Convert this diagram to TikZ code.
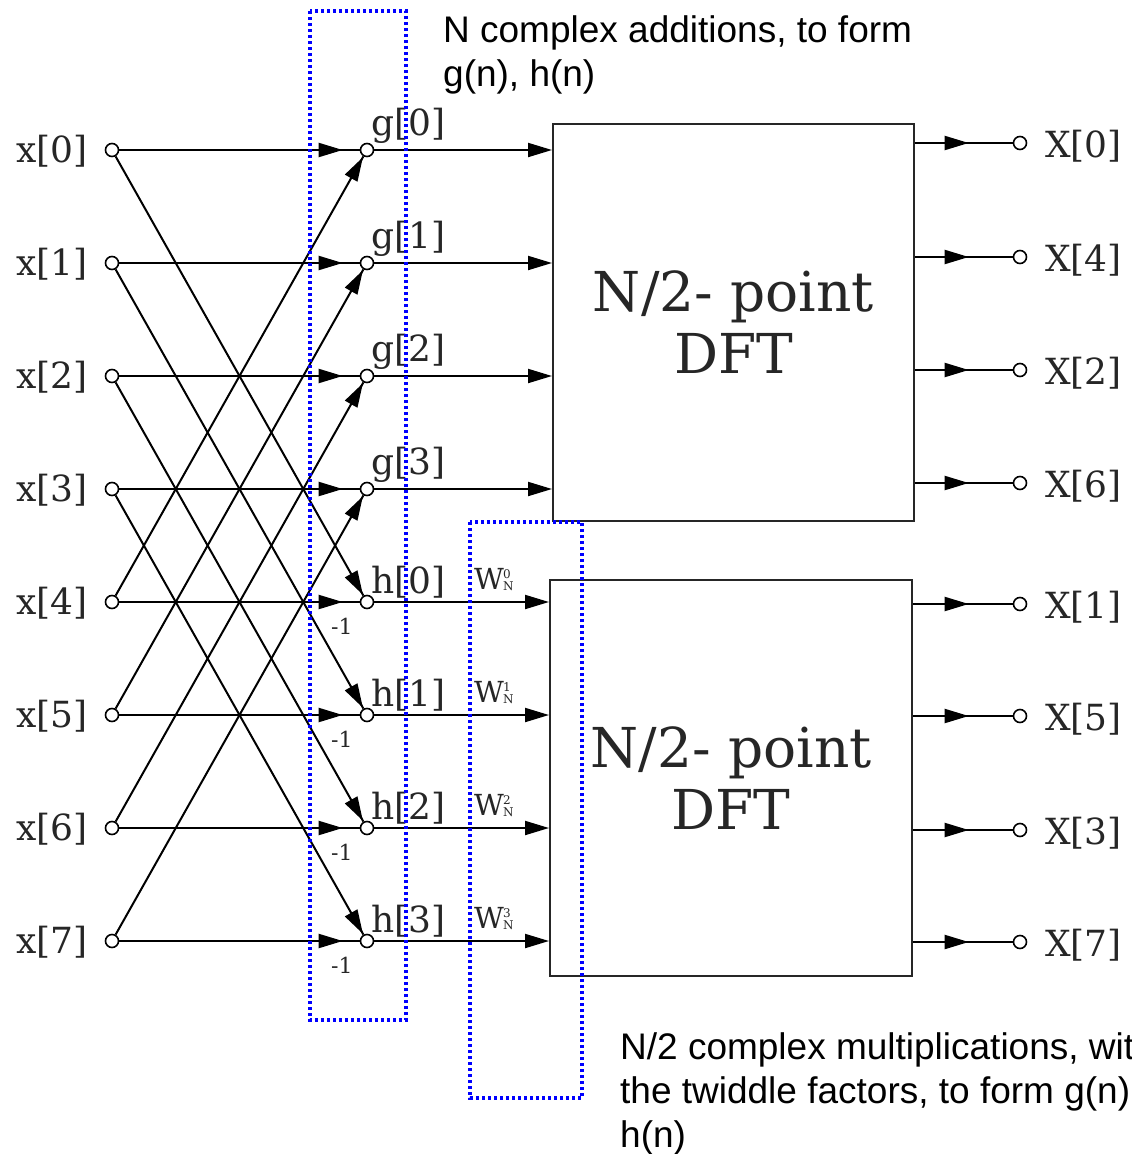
\documentclass[tikz,border=0pt]{standalone}
\usepackage{fontspec}
\setmainfont{DejaVu Serif}
\newfontfamily\sansf{Liberation Sans}
\usetikzlibrary{arrows.meta,decorations.markings,calc}
\newcommand{\twid}[1]{W\kern-1pt\rlap{\raisebox{11pt}{\fontsize{12}{12}\selectfont #1}}\raisebox{-1pt}{\fontsize{12}{12}\selectfont N}}
\begin{document}
\begin{tikzpicture}[x=1pt,y=-1pt,
  pin/.style={circle,draw=black,fill=white,line width=1.6pt,inner sep=0pt,minimum size=13pt},
  wire/.style={line width=2pt,black},
  tipA/.style={-{Triangle[length=24pt,width=14pt]}},
  midarr/.style={decoration={markings,mark=at position #1 with {\arrow{Triangle[length=24pt,width=14pt]}}},postaction={decorate}},
  lbl/.style={font=\fontsize{36}{40}\selectfont,text=black!85,inner sep=0pt},
  wlbl/.style={font=\fontsize{29}{30}\selectfont,text=black!85,inner sep=0pt,anchor=base west},
  minus/.style={font=\fontsize{22}{24}\selectfont,text=black!85,inner sep=0pt,anchor=base west},
  dftbox/.style={draw=black!85,line width=2pt,inner sep=0pt,anchor=north west,align=center,text=black!85,font=\fontsize{55}{62}\selectfont},
  grp/.style={draw=blue,line width=3.5pt,dash pattern=on 3pt off 3pt},
  note/.style={font=\sansf\fontsize{37}{44}\selectfont,inner sep=0pt,anchor=base west}
]
\useasboundingbox (0,0) rectangle (1132,1154);
\fill[white] (0,0) rectangle (1132,1154);
\clip (0,0) rectangle (1132,1154);

% input and middle nodes
\foreach \i/\y in {0/150,1/263,2/376,3/489,4/602,5/715,6/828,7/941} {
  \node[pin] (x\i) at (112,\y) {};
  \node[pin] (m\i) at (367,\y) {};
  \node[lbl,anchor=base east] (xl\i) at (88,\y+12) {x[\i]};
}

% DFT boxes
\node[dftbox,minimum width=361pt,minimum height=397pt] (dft1) at (552,123) {N/2- point\\DFT};
\node[dftbox,minimum width=362pt,minimum height=396pt] (dft2) at (549,579) {N/2- point\\DFT};

% butterflies
\foreach \i in {0,...,3} {
  \pgfmathtruncatemacro\j{\i+4}
  \draw[wire,midarr=-17pt] (x\i) -- (m\i);
  \draw[wire,midarr=-1pt] (x\j) -- (m\i);
  \draw[wire,midarr=-1pt] (x\i) -- (m\j);
  \draw[wire,midarr=-17pt] (x\j) -- (m\j);
  \draw[wire,tipA] (m\i) -- (m\i -| dft1.west);
  \draw[wire,tipA] (m\j) -- (m\j -| dft2.west);
  \node[lbl,anchor=base west] (gl\i) at ($(m\i)+(4,-15)$) {g[\i]};
  \node[lbl,anchor=base west] (hl\i) at ($(m\j)+(4,-9)$) {h[\i]};
  \node[minus] (ml\i) at ($(m\j)+(-36,32)$) {-1};
  \node[wlbl] (wl\i) at ($(m\j)+(107,-13)$) {\twid{\i}};
}

% outputs
\foreach \i/\y/\k in {0/143/0,1/257/4,2/370/2,3/483/6} {
  \node[pin] (o\i) at (1020,\y) {};
  \node[lbl,anchor=base west] (ol\i) at (1045,\y+14) {X[\k]};
  \draw[wire,midarr=-44pt] (o\i -| dft1.east) -- (o\i);
}
\foreach \i/\y/\k in {4/604/1,5/716/5,6/830/3,7/942/7} {
  \node[pin] (o\i) at (1020,\y) {};
  \node[lbl,anchor=base west] (ol\i) at (1045,\y+14) {X[\k]};
  \draw[wire,midarr=-44pt] (o\i -| dft2.east) -- (o\i);
}

% dotted groups
\draw[grp] (310,11) rectangle (406,1020);
\draw[grp] (470,522) rectangle (582,1098);

% notes
\node[note] (n1) at (443,42) {\begin{tabular}[t]{@{}l@{}}N complex additions, to form\\ g(n), h(n)\end{tabular}};
\node[note] (n2) at (620,1059) {\begin{tabular}[t]{@{}l@{}}N/2 complex multiplications, with\\ the twiddle factors, to form g(n)\\ h(n)\end{tabular}};
\end{tikzpicture}
\end{document}
